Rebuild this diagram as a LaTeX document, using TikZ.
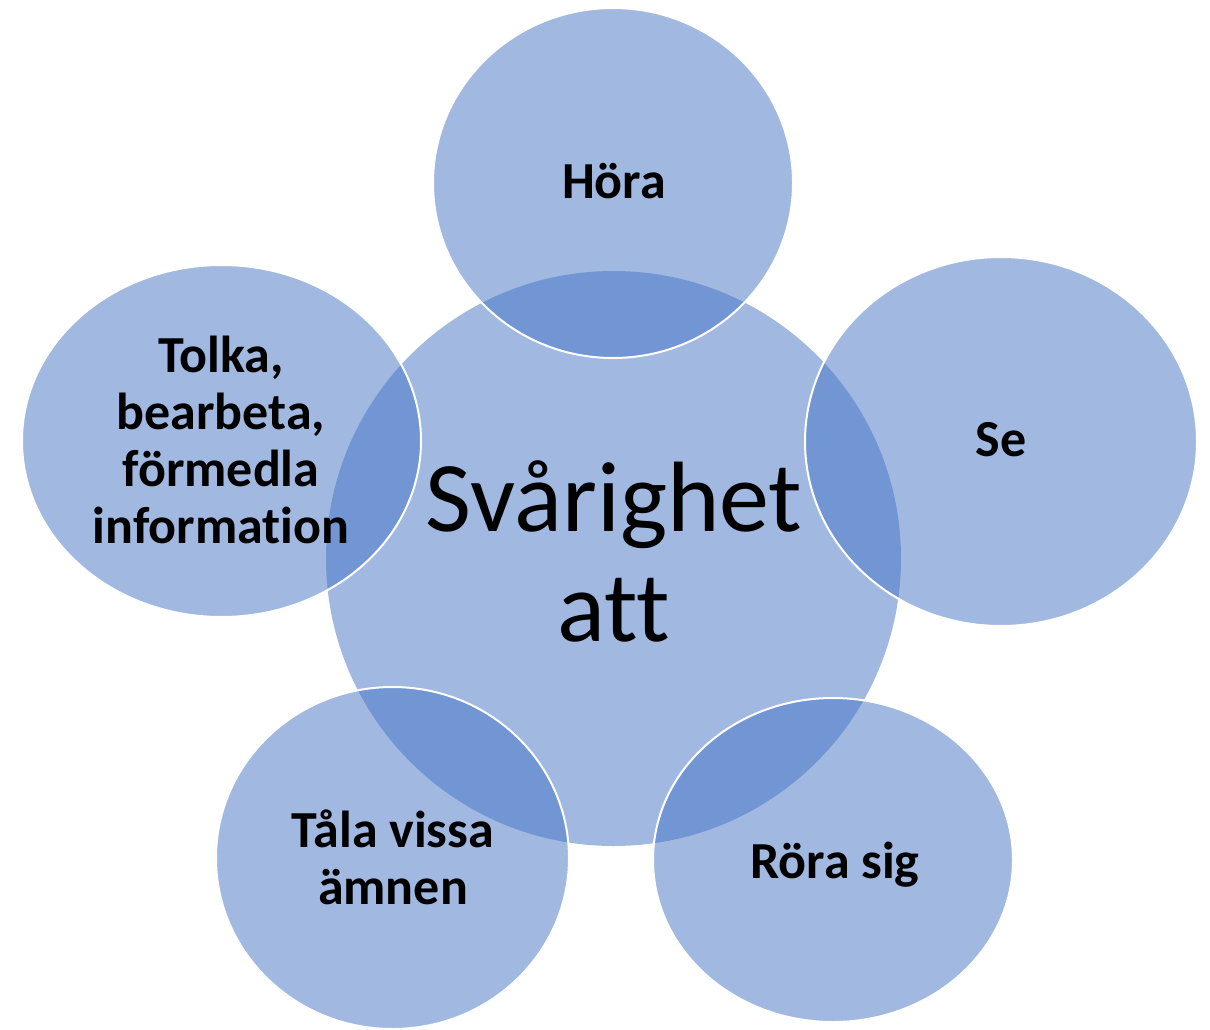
\documentclass[tikz,border=0pt]{standalone}
\usepackage{fontspec}
\setmainfont{Carlito}[Ligatures=CommonOff]
\usetikzlibrary{shapes.geometric}
\definecolor{acc}{HTML}{4472C4}
\begin{document}
\begin{tikzpicture}[x=1pt,y=-1pt,
  hub/.style={circle, inner sep=0pt, fill=acc, fill opacity=0.5},
  bub/.style={ellipse, inner sep=0pt, fill=acc, fill opacity=0.5, draw=white, draw opacity=1, line width=2pt},
  lab/.style={font=\fontsize{52}{57}\selectfont\bfseries, align=center, text=black, inner sep=0pt},
  biglab/.style={font=\fontsize{100}{110}\selectfont, align=center, text=black, inner sep=0pt}]
\useasboundingbox (0,0) rectangle (1210,1030);
\node[hub, minimum size=575pt] (ctr) at (613.5,558.5) {};
\node[bub, minimum width=360pt, minimum height=350pt] (hora) at (613,183) {};
\node[bub, minimum width=392pt, minimum height=369pt] (se) at (1001,441.5) {};
\node[bub, minimum width=360pt, minimum height=324pt] (rora) at (833,860) {};
\node[bub, minimum width=353pt, minimum height=342pt] (tala) at (392.5,858) {};
\node[bub, minimum width=399pt, minimum height=352pt] (tolka) at (221.5,441) {};
\node[biglab] (ctrl) at (614,551) {Svårighet\\att};
\node[lab] (horal) at (614,181.5) {Höra};
\node[lab] (sel) at (1001,440) {Se};
\node[lab] (roral) at (835,865) {Röra sig};
\node[lab] (talal) at (393,857.5) {Tåla vissa\\ämnen};
\node[lab] (tolkal) at (221,439.5) {Tolka,\\bearbeta,\\förmedla\\information};
\end{tikzpicture}
\end{document}
